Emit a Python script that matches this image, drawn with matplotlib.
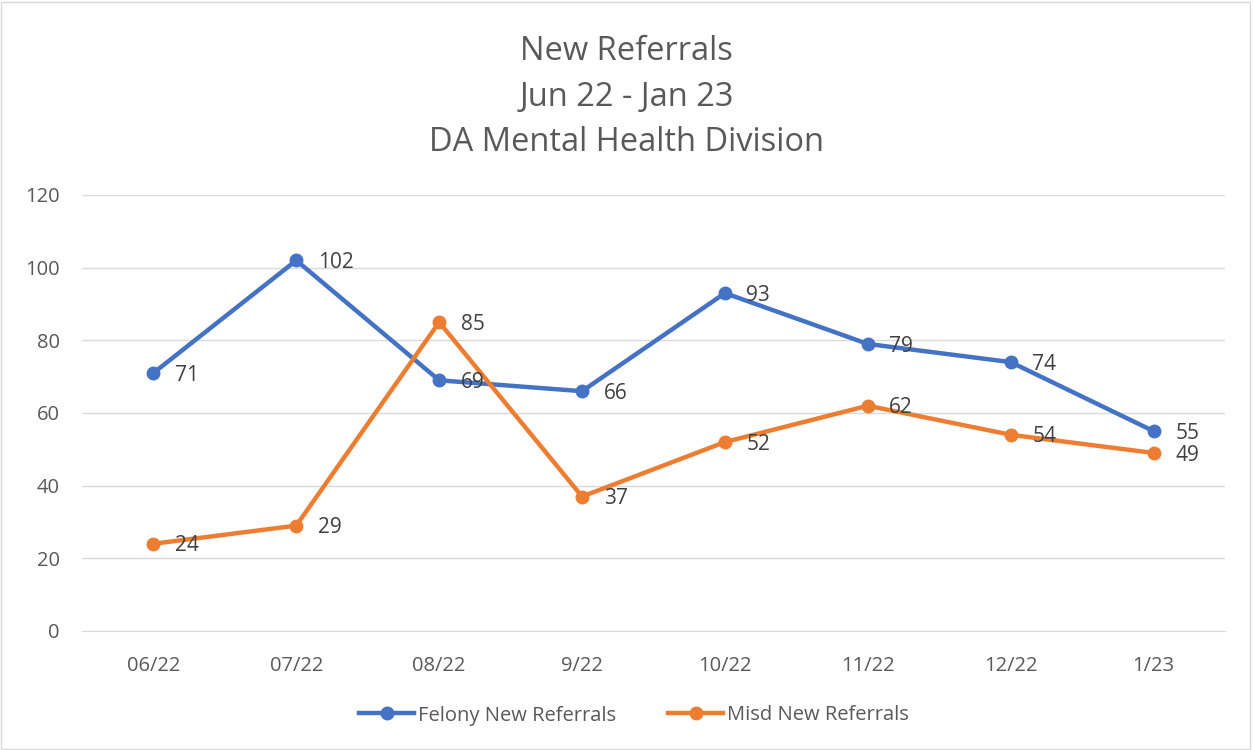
import matplotlib
matplotlib.use("Agg")
import matplotlib.pyplot as plt
from matplotlib.patches import Rectangle

categories = ["06/22", "07/22", "08/22", "9/22", "10/22", "11/22", "12/22", "1/23"]
felony = [71, 102, 69, 66, 93, 79, 74, 55]
misd = [24, 29, 85, 37, 52, 62, 54, 49]
series_names = ["Felony New Referrals", "Misd New Referrals"]
title = "New Referrals\nJun 22 - Jan 23\nDA Mental Health Division"
yticks = [0, 20, 40, 60, 80, 100, 120]

plt.rcParams['font.family'] = ['Open Sans', 'DejaVu Sans']

fig = plt.figure(figsize=(12.53, 7.5), dpi=100)
ax = fig.add_axes([0.0654, 0.1587, 0.9123, 0.5813])

x = list(range(len(categories)))
blue = "#4472C4"
orange = "#ED7D31"
ax.plot(x, felony, color=blue, lw=3.2, marker='o', markersize=9, label=series_names[0], zorder=3)
ax.plot(x, misd, color=orange, lw=3.2, marker='o', markersize=9, label=series_names[1], zorder=3)

for series in (felony, misd):
    for xi, v in zip(x, series):
        ax.annotate(str(v), (xi, v), xytext=(15.5, -1.5), textcoords='offset points',
                    va='center', ha='left', fontsize=15, color='#404040', zorder=4)

ax.set_xlim(-0.5, len(categories) - 0.5)
ax.set_ylim(0, 120)
ax.set_yticks(yticks)
ax.set_xticks(x)
ax.set_xticklabels(categories)
ax.tick_params(axis='both', length=0, labelsize=14.5, colors='#595959')
ax.tick_params(axis='y', pad=16)
ax.tick_params(axis='x', pad=18)
ax.grid(axis='y', color='#D9D9D9', lw=1)
ax.set_axisbelow(True)
for s in ['top', 'right', 'left']:
    ax.spines[s].set_visible(False)
ax.spines['bottom'].set_color('#D9D9D9')

fig.text(0.5, 0.953, title, ha='center', va='top', fontsize=23.5,
         color='#595959', linespacing=1.5)

leg = fig.legend(loc='center', bbox_to_anchor=(0.506, 0.046), ncol=2, frameon=False,
                 fontsize=14.5, handlelength=2.7, handletextpad=0.2, columnspacing=2.6)
for t in leg.get_texts():
    t.set_color('#595959')

fig.patches.append(Rectangle((0.001, 0.001), 0.997, 0.997, transform=fig.transFigure,
                             fill=False, edgecolor='#D9D9D9', lw=1))

fig.savefig("out.png", dpi=100)
